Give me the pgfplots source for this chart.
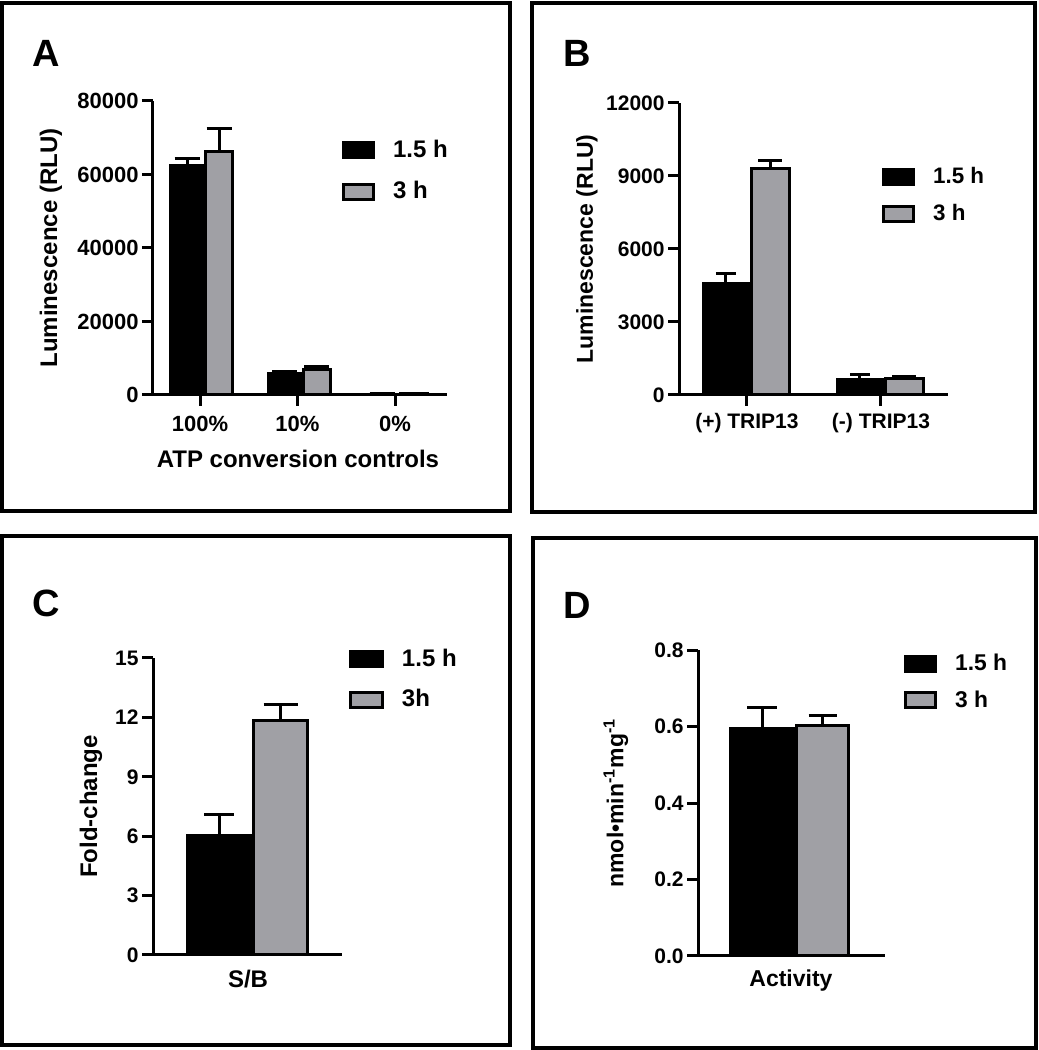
\documentclass[border=0pt]{standalone}
\usepackage{pgfplots}
\pgfplotsset{compat=1.18}
\usepackage{fontspec}
\setmainfont{Liberation Sans}
\definecolor{bargray}{RGB}{160,160,165}
\newcommand{\fs}[1]{\fontsize{#1}{#1}\selectfont\bfseries}
\pgfplotsset{
  gp/.style={
    scale only axis,
    anchor=south west,
    axis x line*=bottom,
    axis y line*=left,
    axis line style={line width=1.5pt, black},
    tick align=outside,
    major tick length=5.5pt,
    tick style={line width=1.5pt, black},
    enlargelimits=false,
    ymin=0,
    clip=false,
    ybar,
    /pgf/number format/assume math mode=true,
    /pgf/number format/1000 sep={},
    scaled y ticks=false,
    legend cell align=left,
    legend image code/.code={\draw[##1, line width=1.5pt] (0pt,-3.75pt) rectangle (15pt,3.75pt);},
    legend style={draw=none, fill=none, inner sep=0pt, outer sep=0pt, anchor=north west, column sep=8pt, nodes={inner sep=1pt}},
    yticklabel style={inner sep=1.5pt},
    ylabel style={anchor=center, inner sep=0pt},
    xlabel style={anchor=base, inner sep=0pt},
  },
  blk/.style={fill=black, draw=black, line width=1.5pt,
    error bars/y dir=plus, error bars/y explicit,
    error bars/error bar style={line width=1.5pt, black},
    error bars/error mark options={rotate=90, mark size=#1, line width=1.5pt, black}},
  gry/.style={fill=bargray, draw=black, line width=1.5pt,
    error bars/y dir=plus, error bars/y explicit,
    error bars/error bar style={line width=1.5pt, black},
    error bars/error mark options={rotate=90, mark size=#1, line width=1.5pt, black}},
}
\begin{document}
\begin{tikzpicture}
\useasboundingbox (0,0) rectangle (519.5pt,525pt);
% frames
\draw[line width=2pt] (1pt,523.5pt) rectangle (255pt,269.5pt);
\draw[line width=2pt] (266pt,523.5pt) rectangle (517.5pt,269pt);
\draw[line width=2pt] (1pt,257pt) rectangle (255pt,2.5pt);
\draw[line width=2pt] (266.5pt,256pt) rectangle (518pt,1pt);
% panel letters
\node[anchor=base west, inner sep=0pt, font=\fs{19}] at (16pt,491.5pt) {A};
\node[anchor=base west, inner sep=0pt, font=\fs{19}] at (281.5pt,491.5pt) {B};
\node[anchor=base west, inner sep=0pt, font=\fs{19}] at (16pt,216.5pt) {C};
\node[anchor=base west, inner sep=0pt, font=\fs{19}] at (281.5pt,215.5pt) {D};

% ---------------- A
\begin{axis}[gp, at={(76.5pt,327.5pt)}, width=147pt, height=147pt,
  xmin=-0.482, xmax=2.533, ymax=80000,
  ytick={0,20000,40000,60000,80000},
  xtick={0,1,2}, xticklabels={100\%,10\%,0\%},
  tick label style={font=\fs{11}},
  xticklabel style={yshift=-1.5pt},
  ylabel={Luminescence (RLU)}, ylabel style={at={(rel axis cs:-0.347,0.5)}, font=\fs{12}},
  xlabel={ATP conversion controls}, xlabel style={at={(rel axis cs:0.493,-0.245)}, font=\fs{12}},
  legend style={at={(rel axis cs:0.643,0.874)}, row sep=8.5pt, font=\fs{12}},
]
\addplot[blk=6.25pt, bar width=16.5pt, bar shift=-6.5pt] coordinates {
  (0,62450) +- (0,1820)
  (1,5760) +- (0,632)
  (2,250) +- (0,100)
};
\addlegendentry{1.5 h}
\addplot[gry=6.25pt, bar width=13.5pt, bar shift=9.5pt] coordinates {
  (0,66260) +- (0,6350)
  (1,7030) +- (0,635)
  (2,400) +- (0,100)
};
\addlegendentry{3 h}
\end{axis}

% ---------------- B
\begin{axis}[gp, at={(339.5pt,327.5pt)}, width=134.5pt, height=146pt,
  xmin=-0.507, xmax=1.5, ymax=12000,
  ytick={0,3000,6000,9000,12000},
  xtick={0,1}, xticklabels={(+) TRIP13,(-) TRIP13},
  tick label style={font=\fs{10.5}},
  ylabel={Luminescence (RLU)}, ylabel style={at={(rel axis cs:-0.342,0.5)}, font=\fs{11.5}},
  legend style={at={(rel axis cs:0.755,0.788)}, row sep=7pt, font=\fs{11.2}},
]
\addplot[blk=5pt, bar width=22.5pt, bar shift=-10.5pt] coordinates {
  (0,4568) +- (0,412)
  (1,648) +- (0,207)
};
\addlegendentry{1.5 h}
\addplot[gry=6pt, bar width=19pt, bar shift=11.75pt] coordinates {
  (0,9320) +- (0,304)
  (1,690) +- (0,83)
};
\addlegendentry{3 h}
\end{axis}

% ---------------- C
\begin{axis}[gp, at={(76.5pt,47.5pt)}, width=94.5pt, height=148.5pt,
  xmin=-95, xmax=94, ymax=15,
  ytick={0,3,6,9,12,15},
  xtick=\empty,
  tick label style={font=\fs{10.5}},
  ylabel={Fold-change}, ylabel style={at={(rel axis cs:-0.328,0.5)}, font=\fs{12}},
  xlabel={S/B}, xlabel style={at={(rel axis cs:0.503,-0.111)}, font=\fs{12}},
  legend style={at={(rel axis cs:1.037,1.037)}, row sep=8pt, font=\fs{12}},
  legend image code/.code={\draw[#1, line width=1.5pt] (0pt,-3.75pt) rectangle (16pt,3.75pt);},
]
\addplot[blk=7.5pt, bar width=31.5pt, bar shift=-14.5pt] coordinates {
  (0,6.03) +- (0,1.06)
};
\addlegendentry{1.5 h}
\addplot[gry=8.5pt, bar width=27pt, bar shift=16.25pt] coordinates {
  (0,11.84) +- (0,0.81)
};
\addlegendentry{3h}
\end{axis}

% ---------------- D
\begin{axis}[gp, at={(349pt,47pt)}, width=93.5pt, height=153pt,
  xmin=-93, xmax=94, ymax=0.8,
  ytick={0,0.2,0.4,0.6,0.8},
  yticklabel style={/pgf/number format/.cd, fixed, fixed zerofill, precision=1},
  xtick=\empty,
  tick label style={font=\fs{10.5}},
  ylabel={nmol\textbullet min\textsuperscript{-1}mg\textsuperscript{-1}}, ylabel style={at={(rel axis cs:-0.439,0.5)}, font=\fs{11.5}},
  xlabel={Activity}, xlabel style={at={(rel axis cs:0.497,-0.101)}, font=\fs{11.5}},
  legend style={at={(rel axis cs:1.102,0.993)}, row sep=6.5pt, font=\fs{11.4}},
]
\addplot[blk=7.5pt, bar width=31.5pt, bar shift=-14.5pt] coordinates {
  (0,0.595) +- (0,0.055)
};
\addlegendentry{1.5 h}
\addplot[gry=7pt, bar width=26pt, bar shift=15.75pt] coordinates {
  (0,0.603) +- (0,0.026)
};
\addlegendentry{3 h}
\end{axis}
\end{tikzpicture}
\end{document}
